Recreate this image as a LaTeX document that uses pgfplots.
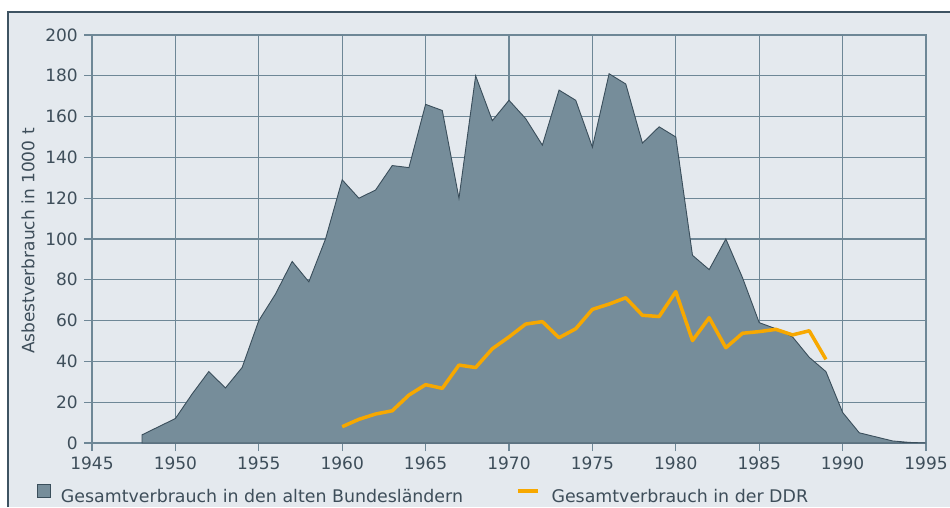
\documentclass[border=0pt]{standalone}
\usepackage{pgfplots}
\pgfplotsset{compat=1.18}
\usepackage{fontspec}
\setmainfont{DejaVu Sans}
\definecolor{bgcol}{RGB}{228,233,238}
\definecolor{framecol}{RGB}{62,83,98}
\definecolor{gridcol}{RGB}{110,135,150}
\definecolor{areacol}{RGB}{118,141,154}
\definecolor{areadark}{RGB}{58,78,91}
\definecolor{ddrcol}{RGB}{247,168,0}
\definecolor{textcol}{RGB}{62,78,90}
\begin{document}
\begin{tikzpicture}
\useasboundingbox (0pt,0pt) rectangle (950pt,507pt);
\fill[white] (0pt,0pt) rectangle (950pt,507pt);
\fill[bgcol] (8pt,0pt) rectangle (950pt,495pt);
\draw[framecol, line width=1.6pt] (8pt,0pt) -- (8pt,495pt) -- (950pt,495pt);
\begin{axis}[
  at={(92pt,64pt)}, anchor=south west,
  scale only axis, width=834pt, height=408pt,
  xmin=1945, xmax=1995, ymin=0, ymax=200,
  xtick={1945,1950,...,1995}, ytick={0,20,...,200},
  /pgf/number format/assume math mode=true,
  xticklabel style={/pgf/number format/1000 sep={}},
  grid=major,
  grid style={gridcol, line width=1.3pt},
  axis line style={gridcol, line width=1.3pt},
  tick style={gridcol, line width=1.3pt},
  tick align=outside, major tick length=8pt,
  xtick pos=bottom, ytick pos=left,
  tick label style={font=\fontsize{17}{20}\selectfont, text=textcol},
  yticklabel style={anchor=east, inner sep=0pt, xshift=-6pt},
  xticklabel style={anchor=north, inner sep=0pt, yshift=-6pt},
  label style={font=\fontsize{17}{20}\selectfont, text=textcol},
  ylabel={Asbestverbrauch in 1000 t},
  ylabel style={at={(axis description cs:-0.0767,0.495)}, anchor=center},
  legend style={at={(axis description cs:-0.0659,-0.125)}, anchor=west,
    draw=none, fill=none, inner sep=0pt, outer sep=0pt,
    font=\fontsize{17.4}{20}\selectfont, text=textcol,
    nodes={inner sep=0pt},
    legend columns=2,
    /tikz/every odd column/.append style={column sep=10pt},
    /tikz/every even column/.append style={column sep=53pt}},
  legend cell align=left,
]
\addplot[fill=areacol, draw=areadark, line width=0.9pt,
  legend image code/.code={\draw[fill=areacol, draw=areadark, line width=0.9pt] (0pt,-1pt) rectangle (13pt,12pt);}]
coordinates {
(1948,4) (1949,8) (1950,12) (1951,24) (1952,35) (1953,27) (1954,37)
(1955,60) (1956,73) (1957,89) (1958,79) (1959,100) (1960,129) (1961,120)
(1962,124) (1963,136) (1964,135) (1965,166) (1966,163) (1967,120) (1968,180)
(1969,158) (1970,168) (1971,159) (1972,146) (1973,173) (1974,168) (1975,145)
(1976,181) (1977,176) (1978,147) (1979,155) (1980,150) (1981,92) (1982,85)
(1983,100) (1984,81) (1985,59) (1986,56) (1987,52) (1988,42) (1989,35)
(1990,15) (1991,5) (1992,3) (1993,1) (1994,0.3) (1995,0)
} \closedcycle;
\addlegendentry{Gesamtverbrauch in den alten Bundesländern}
\addplot[ddrcol, line width=3.5pt, line join=round,
  legend image code/.code={\draw[ddrcol, line width=3.5pt] (0pt,5.5pt) -- (20pt,5.5pt); \path (22pt,0pt);}]
coordinates {
(1960,8) (1961,11.6) (1962,14.2) (1963,15.8) (1964,23.5) (1965,28.6)
(1966,26.8) (1967,38.2) (1968,37) (1969,46.2) (1970,52) (1971,58.3)
(1972,59.5) (1973,51.6) (1974,56) (1975,65.5) (1976,68.1) (1977,71.2)
(1978,62.6) (1979,62) (1980,74.2) (1981,50.2) (1982,61.4) (1983,46.7)
(1984,53.8) (1985,54.6) (1986,55.7) (1987,53) (1988,55) (1989,41)
};
\addlegendentry{Gesamtverbrauch in der DDR}
\end{axis}
\end{tikzpicture}
\end{document}
